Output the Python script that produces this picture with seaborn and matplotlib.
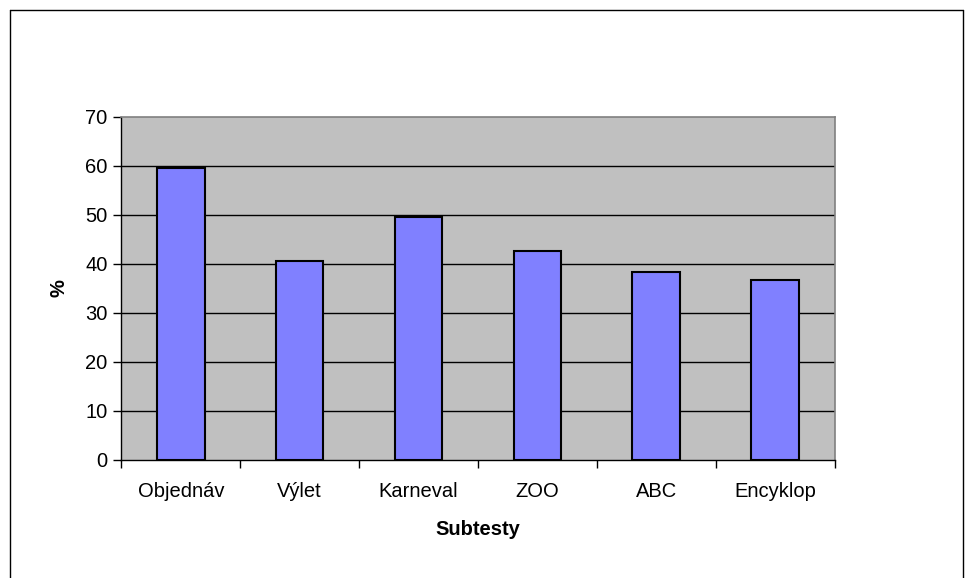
import pandas as pd
import matplotlib
matplotlib.use("Agg")
import matplotlib.pyplot as plt
from matplotlib.lines import Line2D
import seaborn as sns

# Dados do gráfico
subtesty = ["Objednáv", "Výlet", "Karneval", "ZOO", "ABC", "Encyklop"]
procenta = [59.6, 40.5, 49.5, 42.7, 38.4, 36.7]
y_ticks = [0, 10, 20, 30, 40, 50, 60, 70]

df = pd.DataFrame({"Subtesty": subtesty, "Procenta": procenta})

sns.set_style("white", {"xtick.bottom": True, "ytick.left": True})
plt.rcParams["font.family"] = ["Liberation Sans", "DejaVu Sans"]
for key in ["text.color", "axes.labelcolor", "xtick.color", "ytick.color"]:
    plt.rcParams[key] = "black"
fs = 14.5

fig = plt.figure(figsize=(9.67, 5.78), dpi=100)
ax = fig.add_axes([0.1256, 0.205, 0.7374, 0.5926])
ax.set_facecolor("#C0C0C0")

sns.barplot(data=df, x="Subtesty", y="Procenta", color="#8080FF", saturation=1,
            width=0.4, edgecolor="black", linewidth=1.5, ax=ax, zorder=3)

# Osy a mřížka
ax.set_ylim(0, 70)
ax.set_xlim(-0.5, len(subtesty) - 0.5)
ax.set_yticks(y_ticks)
ax.set_yticklabels([str(v) for v in y_ticks], fontsize=fs)
for v in y_ticks[1:-1]:
    ax.axhline(v, color="black", linewidth=1, zorder=1)

ax.set_xticks(range(len(subtesty)))
ax.set_xticklabels(subtesty, fontsize=fs)
ax.tick_params(axis="x", which="major", length=0, pad=16)
ax.set_xticks([i - 0.5 for i in range(len(subtesty) + 1)], minor=True)
ax.tick_params(axis="x", which="minor", bottom=True, length=6, width=1, color="black", direction="out")
ax.tick_params(axis="y", left=True, length=6, width=1, color="black", direction="out", pad=4)

for side in ["left", "bottom"]:
    ax.spines[side].set_color("black")
    ax.spines[side].set_linewidth(1)
for side in ["top", "right"]:
    ax.spines[side].set_color("#808080")
    ax.spines[side].set_linewidth(1.2)

ax.set_xlabel("Subtesty", fontsize=fs, fontweight="bold", labelpad=14)
ax.set_ylabel("%", fontsize=fs, fontweight="bold", labelpad=12)

# Rámeček grafu
x0, x1, y1 = 9.5 / 967, 963 / 967, 1 - 10 / 578
fig.add_artist(Line2D([x0, x0], [0, y1], color="black", linewidth=1, transform=fig.transFigure))
fig.add_artist(Line2D([x0, x1], [y1, y1], color="black", linewidth=1, transform=fig.transFigure))
fig.add_artist(Line2D([x1, x1], [0, y1], color="black", linewidth=1, transform=fig.transFigure))

fig.savefig("out.png", dpi=100)
